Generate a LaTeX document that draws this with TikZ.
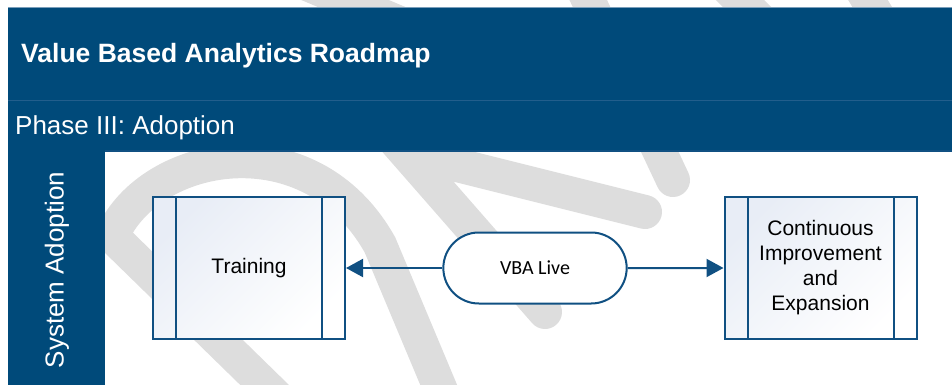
\documentclass[tikz,border=0pt]{standalone}
\usepackage{fontspec}
\setmainfont{Liberation Sans}
\newfontfamily\calibrifont{Carlito}
\usetikzlibrary{arrows.meta,shapes.misc}
\definecolor{headblue}{RGB}{0,74,122}
\definecolor{lineblue}{RGB}{16,80,130}
\definecolor{ruleblue}{RGB}{34,94,140}
\definecolor{boxtint}{RGB}{232,237,246}
\definecolor{markgray}{RGB}{221,221,221}
\begin{document}
\begin{tikzpicture}[x=1pt,y=-1pt,
  process/.style={draw=lineblue,line width=2pt,minimum width=192pt,minimum height=142pt,
    inner sep=0pt,top color=boxtint,bottom color=white,shading angle=45,align=center,
    font=\fontsize{21}{25}\selectfont},
  terminal/.style={rounded rectangle,draw=lineblue,line width=2pt,fill=white,
    minimum width=190pt,minimum height=71pt,font=\calibrifont\fontsize{20}{24}\selectfont},
  flow/.style={draw=lineblue,line width=2pt,-{Triangle[length=17pt,width=18pt]}},
  wmark/.style={markgray,line width=34pt}]
  \useasboundingbox (0,0) rectangle (952,385);
  % watermark behind everything
  \begin{scope}
    \clip (0,0) rectangle (952,385);
    \draw [wmark,line join=miter] (280,400) -- (112,236) .. controls (150,150) and (310,120) .. (380,245) -- (445,400);
    \draw [wmark,line join=miter,line cap=round] (645,212) -- (405,152) -- (545,312);
    \draw [wmark,line cap=round] (560,-60) -- (673,180);
    \draw [wmark] (250,-40) -- (440,40);
    \draw [wmark] (700,-40) -- (760,20);
    \draw [wmark] (850,-30) -- (880,20);
  \end{scope}
  % header and lane
  \fill [headblue] (8,7) rectangle (952,150);
  \fill [headblue] (8,150) rectangle (105,385);
  \draw [ruleblue!60!white,line width=0.8pt] (8,7) -- (952,7);
  \draw [ruleblue,line width=1pt] (8,101) -- (952,101);
  \draw [lineblue,line width=1.5pt] (105,151) -- (952,151);
  \node (title) [anchor=base west,text=white,inner sep=0pt] at (21,63)
    {\bfseries\fontsize{26.5}{30}\selectfont Value Based Analytics Roadmap};
  \node (phase) [anchor=base west,text=white,inner sep=0pt] at (15,135)
    {\fontsize{26}{30}\selectfont Phase III: Adoption};
  \node (lane) [rotate=90,text=white] at (57,270)
    {\fontsize{26}{30}\selectfont System Adoption};
  % steps
  \node (training) [process] at (249,268) {Training};
  \node (live) [terminal] at (535,268) {VBA Live};
  \node (improve) [process] at (820.5,268) {Continuous\\Improvement\\and\\Expansion};
  \foreach \n in {training,improve}
  {
    \draw [lineblue,line width=2pt] ([xshift=24pt]\n.north west) -- ([xshift=24pt]\n.south west);
    \draw [lineblue,line width=2pt] ([xshift=-24pt]\n.north east) -- ([xshift=-24pt]\n.south east);
  }
  \draw [flow] (live) -- (training);
  \draw [flow] (live) -- (improve);
\end{tikzpicture}
\end{document}
